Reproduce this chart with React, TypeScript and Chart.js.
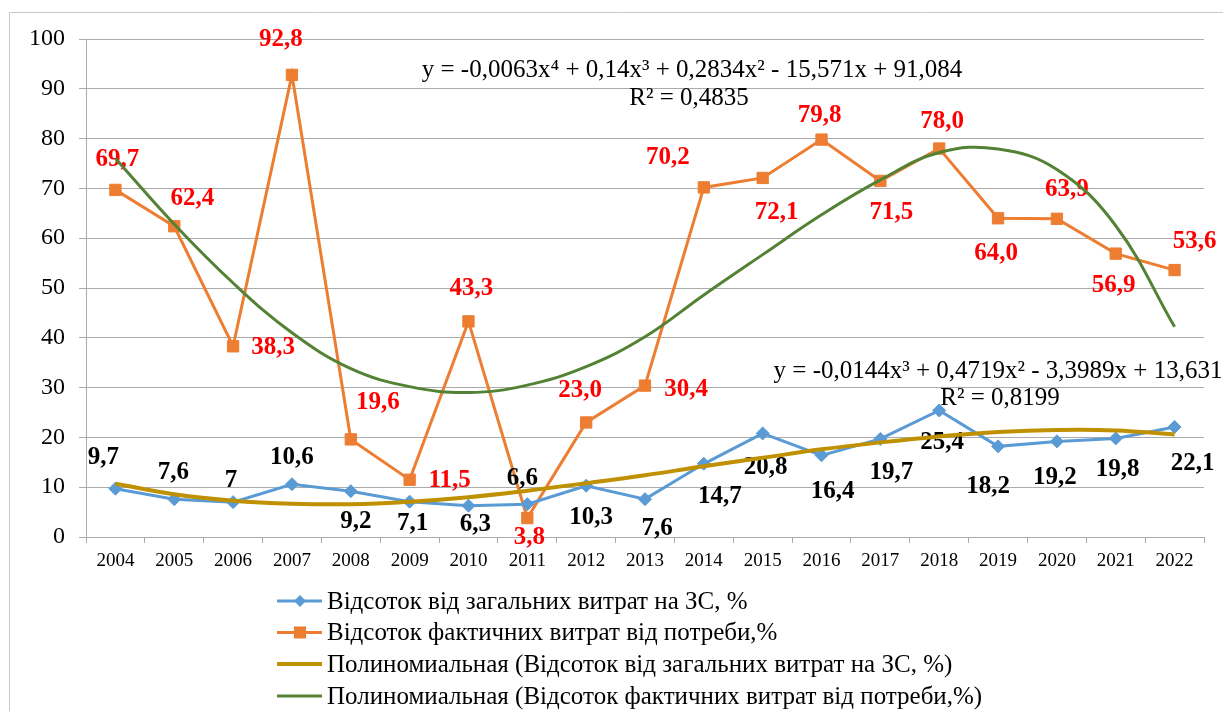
import React, { useEffect, useRef } from 'react';
import { Chart, registerables } from 'chart.js';

Chart.register(...registerables);

const YEARS = ['2004', '2005', '2006', '2007', '2008', '2009', '2010', '2011', '2012', '2013', '2014', '2015', '2016', '2017', '2018', '2019', '2020', '2021', '2022'];
const SHARE_TOTAL = [9.7, 7.6, 7, 10.6, 9.2, 7.1, 6.3, 6.6, 10.3, 7.6, 14.7, 20.8, 16.4, 19.7, 25.4, 18.2, 19.2, 19.8, 22.1];
const SHARE_NEED = [69.7, 62.4, 38.3, 92.8, 19.6, 11.5, 43.3, 3.8, 23.0, 30.4, 70.2, 72.1, 79.8, 71.5, 78.0, 64.0, 63.9, 56.9, 53.6];
// trendline values at each year
const TREND_TOTAL = [10.7, 8.6, 7.3, 6.7, 6.6, 7.1, 8.0, 9.3, 10.8, 12.4, 14.2, 15.9, 17.6, 19.0, 20.2, 21.1, 21.5, 21.4, 20.6];
const TREND_NEED = [76.0, 62.8, 51.0, 41.0, 33.8, 30.2, 29.0, 30.5, 34.2, 40.2, 48.6, 56.7, 64.7, 71.7, 77.2, 77.9, 73.8, 62.5, 42.2];

const Y_MIN = 0;
const Y_MAX = 100;
const Y_STEP = 10;

const LABELS = [
  'Відсоток від загальних витрат на ЗС, %',
  'Відсоток фактичних витрат від потреби,%',
  'Полиномиальная (Відсоток від загальних витрат на ЗС, %)',
  'Полиномиальная (Відсоток фактичних витрат від потреби,%)',
];

const EQ_NEED = 'y = -0,0063x⁴ + 0,14x³ + 0,2834x² - 15,571x + 91,084';
const R2_NEED = 'R² = 0,4835';
const EQ_TOTAL = 'y = -0,0144x³ + 0,4719x² - 3,3989x + 13,631';
const R2_TOTAL = 'R² = 0,8199';

// label placement offsets (px) relative to each point
const OFF_NEED: [number, number][] = [
  [2, -30], [18, -28], [40, 1], [-11, -35], [27, -37], [40, 1], [3, -33], [2, 19], [-6, -32], [41, 4],
  [-36, -30], [14, 35], [-2, -24], [11, 32], [3, -27], [-2, 35], [10, -29], [-2, 32], [20, -29],
];
const OFF_TOTAL: [number, number][] = [
  [-12, -31], [-1, -27], [-2, -22], [0, -27], [5, 30], [3, 22], [7, 19], [-5, -26], [5, 32], [12, 29],
  [16, 33], [3, 34], [11, 36], [11, 34], [3, 32], [-10, 40], [-2, 36], [2, 31], [18, 37],
];

const FONT = '"Liberation Serif", "Times New Roman", serif';
const GRID = '#ABABAB';
const BLUE = '#5B9BD5';
const ORANGE = '#ED7D31';
const GOLD = '#BF9000';
const GREEN = '#548235';

const fmtTotal = (v: number) => String(v).replace('.', ',');
const fmtNeed = (v: number) => v.toFixed(1).replace('.', ',');

const framePlugin = {
  id: 'frame',
  beforeDraw(chart: any) {
    const ctx = chart.ctx;
    ctx.save();
    ctx.fillStyle = '#ffffff';
    ctx.fillRect(0, 0, chart.width, chart.height);
    ctx.strokeStyle = '#C8C8C8';
    ctx.lineWidth = 1;
    ctx.beginPath();
    ctx.moveTo(9.5, chart.height + 2);
    ctx.lineTo(9.5, 12.5);
    ctx.lineTo(chart.width + 2, 12.5);
    ctx.stroke();
    ctx.restore();
  },
};

const labelsPlugin = {
  id: 'valueLabels',
  afterDatasetDraw(chart: any, args: any) {
    if (args.index !== 0) return;
    const ctx = chart.ctx;
    ctx.save();
    ctx.font = `bold 25px ${FONT}`;
    ctx.textAlign = 'center';
    ctx.textBaseline = 'middle';
    const m1 = chart.getDatasetMeta(1);
    ctx.fillStyle = '#FF0000';
    m1.data.forEach((p: any, i: number) => {
      const [dx, dy] = OFF_NEED[i];
      ctx.fillText(fmtNeed(SHARE_NEED[i]), p.x + dx, p.y + dy);
    });
    const m0 = chart.getDatasetMeta(0);
    ctx.fillStyle = '#000000';
    m0.data.forEach((p: any, i: number) => {
      const [dx, dy] = OFF_TOTAL[i];
      ctx.fillText(fmtTotal(SHARE_TOTAL[i]), p.x + dx, p.y + dy);
    });
    ctx.restore();
  },
};

const textPlugin = {
  id: 'eqLegend',
  afterDraw(chart: any) {
    const ctx = chart.ctx;
    ctx.save();
    ctx.fillStyle = '#000';
    ctx.font = `25px ${FONT}`;
    ctx.textAlign = 'center';
    ctx.textBaseline = 'alphabetic';
    ctx.fillText(EQ_NEED, 692, 77);
    ctx.fillText(R2_NEED, 689, 105);
    ctx.fillText(EQ_TOTAL, 998, 378);
    ctx.fillText(R2_TOTAL, 1000, 405);

    // legend
    const rows = [601, 632.5, 664, 696];
    const colors = [BLUE, ORANGE, GOLD, GREEN];
    ctx.textAlign = 'left';
    ctx.textBaseline = 'middle';
    LABELS.forEach((lab, i) => {
      const y = rows[i];
      ctx.strokeStyle = colors[i];
      ctx.lineWidth = i === 2 ? 4 : 3;
      ctx.beginPath();
      ctx.moveTo(277, y);
      ctx.lineTo(322, y);
      ctx.stroke();
      ctx.fillStyle = colors[i];
      if (i === 0) {
        ctx.beginPath();
        ctx.moveTo(300, y - 6);
        ctx.lineTo(306, y);
        ctx.lineTo(300, y + 6);
        ctx.lineTo(294, y);
        ctx.closePath();
        ctx.fill();
      } else if (i === 1) {
        ctx.fillRect(294, y - 6, 12, 12);
      }
      ctx.fillStyle = '#000';
      ctx.fillText(lab, 327, y + 1);
    });
    ctx.restore();
  },
};

export default function App() {
  const ref = useRef<HTMLCanvasElement | null>(null);
  useEffect(() => {
    document.body.style.margin = '0';
    const canvas = ref.current;
    if (!canvas) return;
    const chart = new Chart(canvas, {
      type: 'line',
      data: {
        labels: YEARS,
        datasets: [
          {
            label: LABELS[0],
            data: SHARE_TOTAL,
            borderColor: BLUE,
            backgroundColor: BLUE,
            borderWidth: 3,
            pointStyle: 'rectRot',
            pointRadius: 6.5,
            pointBorderWidth: 1,
            order: 1,
          },
          {
            label: LABELS[1],
            data: SHARE_NEED,
            borderColor: ORANGE,
            backgroundColor: ORANGE,
            borderWidth: 3,
            pointStyle: 'rect',
            pointRadius: 8,
            pointBorderWidth: 1,
            order: 1,
          },
          {
            label: LABELS[2],
            data: TREND_TOTAL,
            borderColor: GOLD,
            borderWidth: 4,
            pointRadius: 0,
            tension: 0.4,
            order: 0,
          },
          {
            label: LABELS[3],
            data: TREND_NEED,
            borderColor: GREEN,
            borderWidth: 3,
            pointRadius: 0,
            tension: 0.4,
            order: 0,
          },
        ],
      },
      options: {
        responsive: false,
        animation: false,
        events: [],
        layout: { padding: { left: 0, right: 19, top: 39, bottom: 134 } },
        plugins: { legend: { display: false }, tooltip: { enabled: false } },
        scales: {
          x: {
            type: 'category',
            offset: true,
            grid: { offset: true, drawOnChartArea: false, drawTicks: true, tickLength: 6, color: GRID },
            border: { color: GRID, width: 1 },
            ticks: { font: { family: FONT, size: 19 }, color: '#000', padding: 7, maxRotation: 0, autoSkip: false },
            afterFit: (s: any) => { s.height = 40; },
          },
          y: {
            min: Y_MIN,
            max: Y_MAX,
            ticks: { stepSize: Y_STEP, font: { family: FONT, size: 24 }, color: '#000', padding: 14 },
            grid: { color: GRID, tickLength: 7 },
            border: { color: GRID, width: 1 },
            afterFit: (s: any) => { s.width = 86; },
          },
        },
      },
      plugins: [framePlugin, labelsPlugin, textPlugin],
    } as any);
    return () => chart.destroy();
  }, []);
  return <canvas ref={ref} width={1223} height={711} style={{ display: 'block' }} />;
}
